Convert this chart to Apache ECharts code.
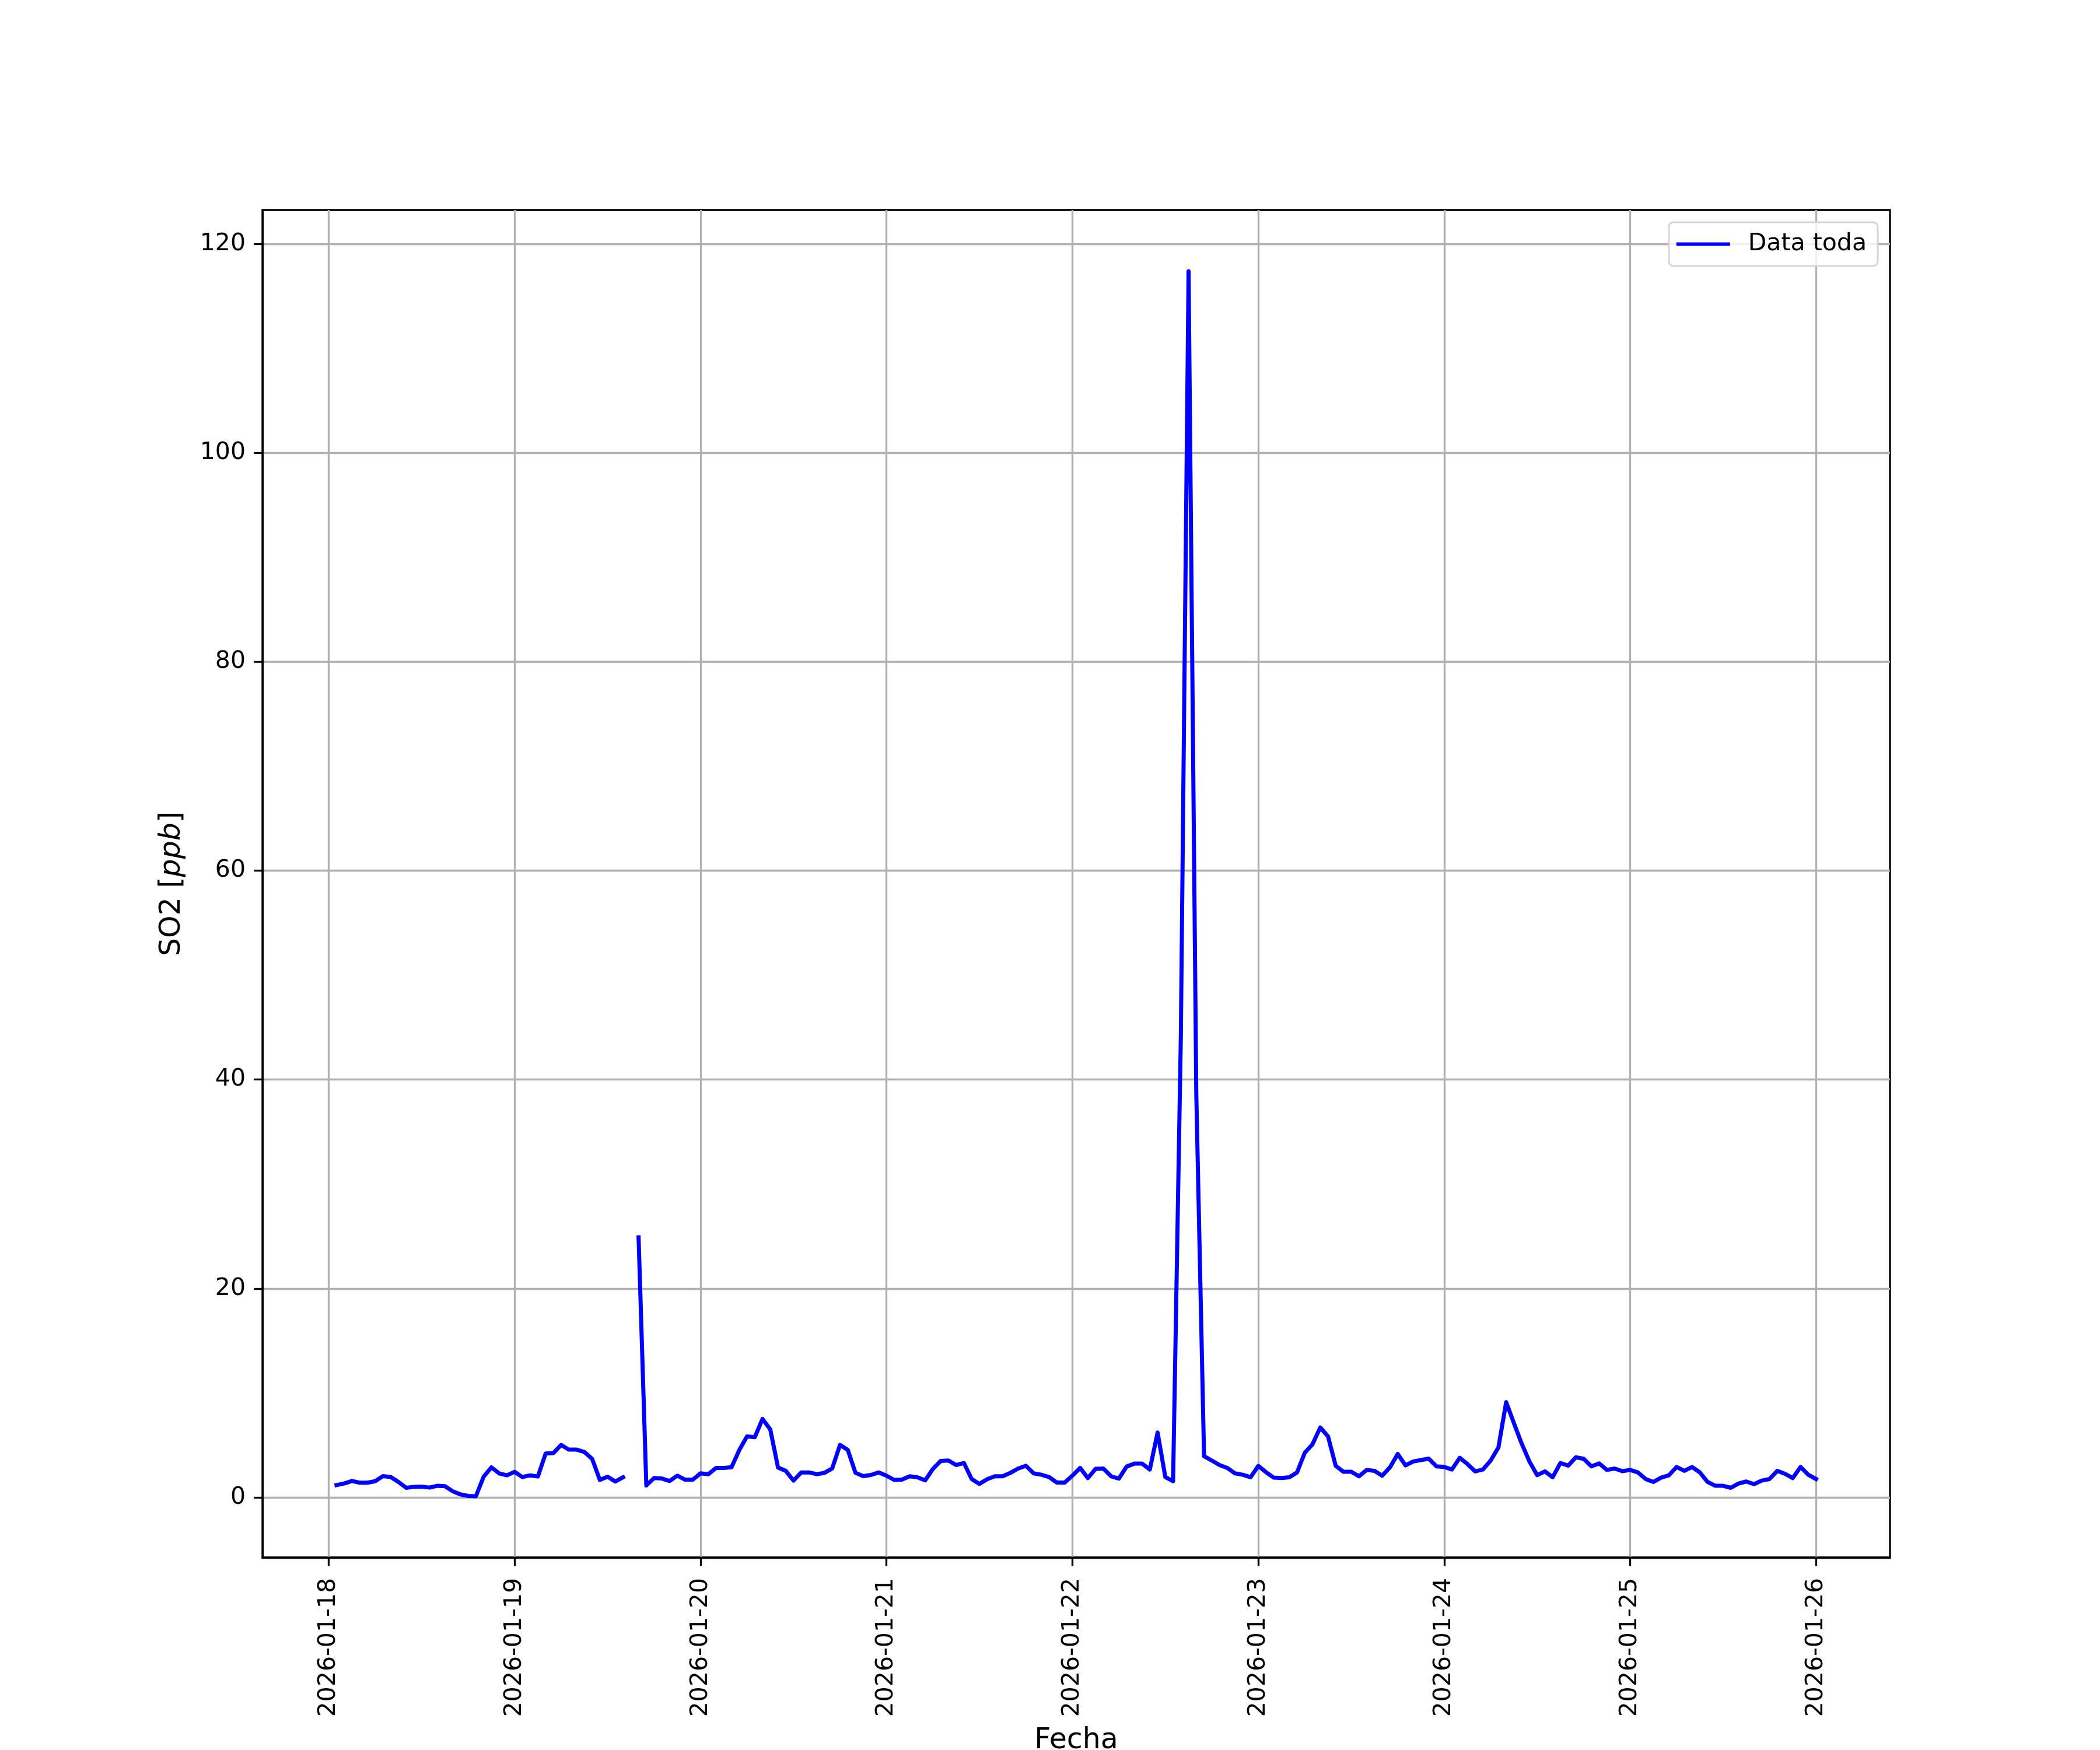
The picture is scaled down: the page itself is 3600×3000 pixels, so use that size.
<!DOCTYPE html>
<html>
<head>
<meta charset="utf-8">
<title>SO2 - Data toda</title>
<script src="https://cdn.jsdelivr.net/npm/echarts@6/dist/echarts.min.js"></script>
<style>
  html, body { margin: 0; padding: 0; background: #fff; }
  #chart { width: 3600px; height: 3000px; }
</style>
</head>
<body>
<div id="chart"></div>
<script>
// serie horaria: primer dato 2026-01-18 01:00, un valor por hora hasta 2026-01-26 00:00
const startHour = 1
const stepHours = 1

// SO2 [ppb], una fila por dia (24 valores), null = hueco en la serie
const so2Day1 = [1.19, 1.34, 1.58, 1.42, 1.42, 1.56, 2.05, 1.96, 1.49, 0.93, 1.02, 1.04, 0.95, 1.12, 1.08, 0.60, 0.30, 0.15, 0.12, 1.99, 2.89, 2.31, 2.12, 2.46]
const so2Day2 = [1.96, 2.12, 2.01, 4.21, 4.25, 5.03, 4.58, 4.58, 4.36, 3.70, 1.68, 1.99, 1.53, 1.94, null, 24.9, 1.15, 1.86, 1.82, 1.58, 2.09, 1.71, 1.71, 2.31]
const so2Day3 = [2.23, 2.83, 2.83, 2.90, 4.54, 5.85, 5.77, 7.52, 6.52, 2.87, 2.55, 1.62, 2.40, 2.40, 2.23, 2.36, 2.79, 5.03, 4.56, 2.36, 2.05, 2.16, 2.40, 2.09]
const so2Day4 = [1.68, 1.71, 2.03, 1.94, 1.64, 2.74, 3.50, 3.54, 3.11, 3.30, 1.77, 1.30, 1.75, 2.03, 2.03, 2.36, 2.77, 3.04, 2.31, 2.18, 1.96, 1.43, 1.43, 2.09]
const so2Day5 = [2.83, 1.86, 2.74, 2.77, 2.03, 1.81, 2.96, 3.24, 3.24, 2.68, 6.22, 1.96, 1.56, 44.0, 117.37, 38.5, 3.95, 3.54, 3.11, 2.83, 2.31, 2.18, 1.94, 3.02]
const so2Day6 = [2.42, 1.90, 1.86, 1.94, 2.40, 4.28, 5.10, 6.70, 5.85, 3.02, 2.46, 2.46, 2.03, 2.64, 2.55, 2.09, 2.89, 4.17, 3.07, 3.45, 3.58, 3.72, 2.98, 2.92]
const so2Day7 = [2.68, 3.80, 3.20, 2.50, 2.68, 3.54, 4.79, 9.12, 7.11, 5.16, 3.45, 2.14, 2.50, 1.94, 3.30, 3.05, 3.85, 3.71, 2.98, 3.26, 2.64, 2.77, 2.52, 2.64]
const so2Day8 = [2.40, 1.77, 1.49, 1.90, 2.12, 2.92, 2.55, 2.92, 2.40, 1.49, 1.12, 1.12, 0.93, 1.34, 1.53, 1.28, 1.62, 1.77, 2.55, 2.27, 1.86, 2.92, 2.18, 1.77]

// etiquetas del eje x (dias desde 2026-01-18) y del eje y
const dayTicks = [0, 1, 2, 3, 4, 5, 6, 7, 8]
const dayLabels = ['2026-01-18', '2026-01-19', '2026-01-20', '2026-01-21', '2026-01-22',
  '2026-01-23', '2026-01-24', '2026-01-25', '2026-01-26']
const yTicks = [0, 20, 40, 60, 80, 100, 120]

const seriesName = 'Data toda'

const so2 = [].concat(so2Day1, so2Day2, so2Day3, so2Day4, so2Day5, so2Day6, so2Day7, so2Day8)
// x en dias desde 2026-01-18 00:00
const points = so2.map((v, i) => [(startHour + i * stepHours) / 24, v])

// margenes 5% como matplotlib
const xs = points.map(p => p[0])
const ys = so2.filter(v => v !== null)
const xPad = (Math.max(...xs) - Math.min(...xs)) * 0.05
const yPad = (Math.max(...ys) - Math.min(...ys)) * 0.05

const FONT = 'DejaVu Sans'
const chart = echarts.init(document.getElementById('chart'), null, { renderer: 'canvas' })

chart.setOption({
  animation: false,
  backgroundColor: '#fff',
  grid: {
    left: 450, right: 360, top: 360, bottom: 330,
    containLabel: false,
    outerBoundsMode: 'none',
    show: true, borderColor: '#000', borderWidth: 3.3, backgroundColor: 'transparent'
  },
  legend: {
    right: 381,
    top: 381,
    icon: 'rect',
    itemWidth: 92,
    itemHeight: 6,
    padding: [17, 19, 17, 13],
    borderColor: '#d6d6d6',
    borderWidth: 3,
    borderRadius: 8,
    backgroundColor: 'rgba(255,255,255,0.8)',
    textStyle: { fontFamily: FONT, fontSize: 41, color: '#000', padding: [0, 0, 0, 26] },
    data: [seriesName]
  },
  xAxis: {
    type: 'value',
    min: Math.min(...xs) - xPad,
    max: Math.max(...xs) + xPad,
    name: 'Fecha',
    nameLocation: 'middle',
    nameGap: 290,
    nameTextStyle: { fontFamily: FONT, fontSize: 49, color: '#000', verticalAlign: 'top' },
    axisLine: { show: true, onZero: false, lineStyle: { color: '#000', width: 3.3 } },
    axisTick: { show: true, inside: false, length: 14.6, customValues: dayTicks, lineStyle: { color: '#000', width: 3.3 } },
    axisLabel: {
      customValues: dayTicks,
      rotate: 90,
      margin: 35,
      fontFamily: FONT,
      fontSize: 41,
      color: '#000',
      formatter: v => dayLabels[dayTicks.indexOf(Math.round(v))] || ''
    },
    splitLine: { show: true, lineStyle: { color: '#b0b0b0', width: 3.3 } }
  },
  yAxis: {
    type: 'value',
    min: Math.min(...ys) - yPad,
    max: Math.max(...ys) + yPad,
    name: 'SO2 [{i|ppb}]',
    nameLocation: 'middle',
    nameGap: 130,
    nameTextStyle: {
      fontFamily: FONT, fontSize: 49, color: '#000',
      rich: { i: { fontFamily: FONT, fontSize: 49, fontStyle: 'italic', color: '#000' } }
    },
    axisLine: { show: true, onZero: false, lineStyle: { color: '#000', width: 3.3 } },
    axisTick: { show: true, inside: false, length: 14.6, customValues: yTicks, lineStyle: { color: '#000', width: 3.3 } },
    axisLabel: { customValues: yTicks, margin: 29, fontFamily: FONT, fontSize: 41, color: '#000' },
    splitLine: { show: true, lineStyle: { color: '#b0b0b0', width: 3.3 } }
  },
  series: [{
    name: seriesName,
    type: 'line',
    data: points,
    showSymbol: false,
    connectNulls: false,
    color: '#0000ff',
    lineStyle: { color: '#0000ff', width: 7, join: 'round', cap: 'square' },
    emphasis: { disabled: true }
  }]
})
</script>
</body>
</html>
